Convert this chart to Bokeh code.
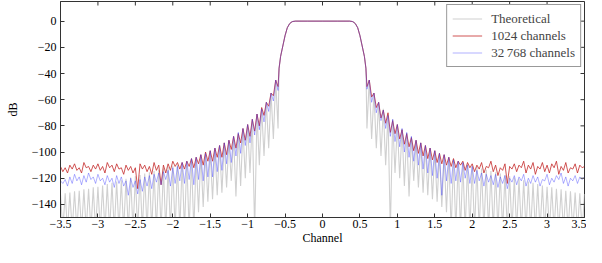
import numpy as np
from bokeh.plotting import figure
from bokeh.models import Range1d, FixedTicker, Legend, LegendItem
from bokeh.embed import file_html
from bokeh.resources import INLINE

# ---------------- data ----------------
# passband shape (|channel|, dB), shared by all three curves
passband_x = [0.0, 0.1, 0.2, 0.3, 0.36, 0.40, 0.42, 0.44, 0.47, 0.50, 0.53, 0.56, 0.58]
passband_db = [0, 0, 0, 0, 0, -0.3, -1, -2, -5, -11, -19, -27, -36]

# side-lobe grid in |channel|: null, peak, null, peak, ... (1/32 channel step)
sidelobe_x = np.arange(19, 113) / 32

# theoretical response: lobe peaks and nulls (symmetric)
theory_peak_db = [-45, -55, -62, -67, -71, -75, -79, -82.5, -85.5, -88.5, -91, -93, -95, -97,
                  -99, -101, -102.5, -104, -105.5, -107, -108, -109.5, -110.5, -111.5, -112.5,
                  -113.5, -114.5, -115.5, -116.5, -117.5, -118.5, -119.5, -120.5, -121.5,
                  -122.5, -123.5, -124.5, -125.5, -126.5, -127, -128, -128.5, -129.5, -130,
                  -131, -131.5, -132]
theory_null_db = [-82, -90, -97, -103, -110, -160, -116, -120, -126, -134, -122, -127, -131,
                  -133, -136, -138, -142, -146, -160, -160, -160, -160, -160, -160, -160, -160,
                  -160, -160, -160, -160, -160, -160, -160, -160, -160, -160, -160, -160, -160,
                  -160, -160, -160, -160, -160, -160, -160, -160]

# 1024 channels, (null, peak) pairs, positive side
red_right_db = [-50, -45, -58, -55, -66, -62, -74, -68, -78, -70, -85, -76, -86, -79, -90, -83,
                -94, -86, -96, -89, -99, -91, -101, -93, -103, -95, -105, -97, -106, -99,
                -108, -101, -109, -102, -110, -104, -111, -105, -112, -107, -110, -107,
                -114, -108, -112, -109, -115, -110, -113, -108, -116, -111, -112, -107,
                -115, -110, -118, -112, -114, -109, -124, -111, -113, -109, -115, -110,
                -112, -107, -116, -110, -113, -108, -117, -111, -113, -108, -115, -110,
                -116, -109, -112, -107, -117, -111, -114, -108, -116, -112, -113, -109,
                -116, -110, -112, -111]
# 1024 channels, negative side (ordered by increasing |channel|)
red_left_db = [-50, -45, -57, -55, -65, -62, -72, -66, -80, -71, -84, -75, -88, -79, -91, -82,
               -93, -86, -97, -88, -98, -91, -102, -93, -104, -95, -104, -97, -107, -99,
               -107, -100, -110, -102, -109, -104, -112, -105, -111, -107, -113, -108,
               -113, -108, -111, -107, -114, -109, -116, -110, -125, -110, -114, -108,
               -117, -111, -115, -110, -113, -109, -128, -112, -116, -111, -114, -110,
               -117, -112, -113, -109, -115, -110, -112, -108, -116, -111, -114, -109,
               -113, -110, -115, -111, -112, -108, -116, -112, -114, -109, -113, -110,
               -116, -112, -115, -111]
# 32768 channels, positive side
blue_right_db = [-52, -45, -62, -55, -70, -62, -76, -68, -82, -72, -88, -75, -92, -79, -96, -82,
                 -100, -85, -104, -88, -107, -91, -110, -93, -113, -95, -116, -97, -118, -99,
                 -120, -101, -133, -102, -122, -104, -124, -106, -122, -107, -123, -108,
                 -120, -110, -124, -111, -124, -114, -122, -116, -126, -117, -123, -118,
                 -125, -117, -127, -119, -124, -118, -128, -120, -123, -118, -125, -119,
                 -122, -117, -126, -120, -124, -118, -123, -119, -126, -121, -122, -117,
                 -125, -120, -123, -118, -121, -116, -124, -119, -126, -120, -122, -118,
                 -124, -119, -121, -119]
# 32768 channels, negative side
blue_left_db = [-53, -45, -61, -55, -69, -62, -77, -67, -83, -71, -87, -75, -93, -79, -95, -82,
                -101, -85, -103, -88, -108, -91, -109, -93, -114, -95, -115, -97, -119, -99,
                -119, -101, -122, -102, -121, -104, -125, -105, -121, -107, -124, -108,
                -122, -111, -124, -112, -126, -114, -121, -115, -125, -116, -123, -117,
                -128, -118, -126, -119, -130, -121, -132, -122, -127, -120, -133, -122,
                -126, -119, -124, -118, -127, -120, -123, -118, -125, -120, -122, -117,
                -124, -119, -121, -116, -123, -118, -125, -119, -122, -117, -124, -119,
                -126, -121, -124, -122]

x_ticks = [-3.5, -3, -2.5, -2, -1.5, -1, -0.5, 0, 0.5, 1, 1.5, 2, 2.5, 3, 3.5]
y_ticks = [0, -20, -40, -60, -80, -100, -120, -140]
series_labels = ["Theoretical", "1024 channels", "32\u2009768 channels"]
x_min, x_max = -3.5, 3.5
y_min, y_max = -150, 15

# ---------------- build curves ----------------
theory_db = []
for n, pk in zip(theory_null_db, theory_peak_db):
    theory_db += [n, pk]

px = np.array(passband_x, dtype=float)
pdb = np.array(passband_db, dtype=float)
x_right = np.concatenate([px, sidelobe_x])
x_full = np.concatenate([-x_right[::-1], x_right[1:]])


def full_curve(left_db, right_db):
    yl = np.concatenate([pdb, np.array(left_db, dtype=float)])[::-1]
    yr = np.concatenate([pdb, np.array(right_db, dtype=float)])
    return np.concatenate([yl, yr[1:]])


y_theory = full_curve(theory_db, theory_db)
y_red = full_curve(red_left_db, red_right_db)
y_blue = full_curve(blue_left_db, blue_right_db)

# ---------------- figure ----------------
FONT = "Liberation Serif"
AXC = "#333333"
p = figure(width=586, height=247, output_backend="svg", toolbar_location=None,
           x_range=Range1d(x_min, x_max), y_range=Range1d(y_min, y_max))
p.min_border_left = 60
p.min_border_right = 2
p.min_border_top = 1
p.min_border_bottom = 26
p.background_fill_color = "white"
p.border_fill_color = "white"
p.outline_line_color = AXC
p.outline_line_width = 1
p.xgrid.visible = False
p.ygrid.visible = False

r_theo = p.line(x_full, y_theory, line_color="#d0d0d0", line_width=1.1)
r_red = p.line(x_full, y_red, line_color="#c42a2a", line_width=0.8)
r_blue = p.line(x_full, y_blue, line_color="#3b3bff", line_width=0.8, line_alpha=0.5)

# mirrored tick marks on the top and right frame edges
p.scatter(x=x_ticks, y=[y_max] * len(x_ticks), marker="dash", angle=np.pi / 2, size=8,
          line_color=AXC, line_width=1)
p.scatter(x=[x_max] * len(y_ticks), y=y_ticks, marker="dash", size=8,
          line_color=AXC, line_width=1)


def minus(v):
    return ("%g" % v).replace("-", "\u2212")


xax = p.xaxis[0]
xax.ticker = FixedTicker(ticks=x_ticks)
xax.major_label_overrides = {t: minus(t) for t in x_ticks}
yax = p.yaxis[0]
yax.ticker = FixedTicker(ticks=y_ticks)
yax.major_label_overrides = {t: minus(t) for t in y_ticks}
xax.axis_label = "Channel"
yax.axis_label = "dB"

for ax in (xax, yax):
    ax.major_tick_in = 4
    ax.major_tick_out = 0
    ax.minor_tick_line_color = None
    ax.axis_line_color = AXC
    ax.major_tick_line_color = AXC
    ax.major_label_text_font = FONT
    ax.major_label_text_font_size = "12px"
    ax.major_label_text_color = "black"
    ax.axis_label_text_font = FONT
    ax.axis_label_text_font_size = "12px"
    ax.axis_label_text_font_style = "normal"
    ax.axis_label_text_color = "black"
xax.major_label_standoff = 2
xax.axis_label_standoff = 0
yax.major_label_standoff = 4
yax.axis_label_standoff = 9

legend = Legend(items=[LegendItem(label=series_labels[0], renderers=[r_theo]),
                       LegendItem(label=series_labels[1], renderers=[r_red]),
                       LegendItem(label=series_labels[2], renderers=[r_blue])],
                location="top_right")
legend.margin = 3
legend.padding = 5
legend.spacing = 0
legend.glyph_width = 30
legend.glyph_height = 17
legend.label_height = 17
legend.label_standoff = 9
legend.label_text_font = FONT
legend.label_text_font_size = "13px"
legend.border_line_color = AXC
legend.border_line_width = 1
legend.background_fill_color = "white"
legend.background_fill_alpha = 1
p.add_layout(legend, "center")

open("out.html", "w").write(file_html(p, INLINE))
